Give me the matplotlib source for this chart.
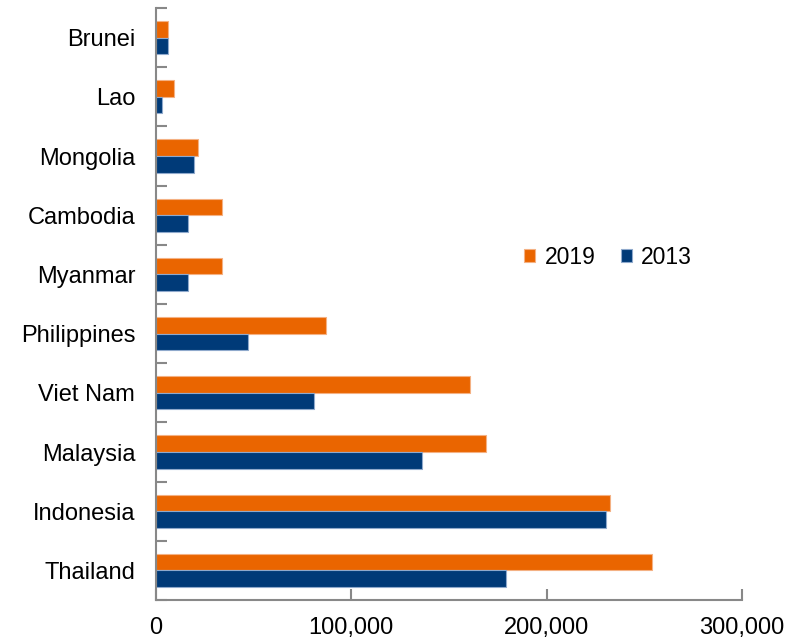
import matplotlib.pyplot as plt
import numpy as np
from matplotlib.ticker import FuncFormatter

plt.rcParams['font.family'] = ['Liberation Sans', 'DejaVu Sans']

# categories, bottom to top
countries = ["Thailand", "Indonesia", "Malaysia", "Viet Nam", "Philippines",
             "Myanmar", "Cambodia", "Mongolia", "Lao", "Brunei"]
v2019 = [253900, 232400, 169100, 160800, 87100, 33900, 33900, 21600, 9400, 6300]
v2013 = [179200, 230300, 136200, 81000, 47200, 16500, 16500, 19600, 3200, 6300]

orange = "#EA6500"
navy = "#003A78"

fig = plt.figure(figsize=(7.98, 6.4), dpi=100)
ax = fig.add_axes([156 / 798, 40 / 640, (742 - 156) / 798, (600 - 8) / 640])

y = np.arange(len(countries))
h = 0.28
ax.barh(y + h / 2, v2019, height=h, color=orange, edgecolor="#F4B183",
        linewidth=0.8, label="2019")
ax.barh(y - h / 2, v2013, height=h, color=navy, edgecolor="#8FA9CC",
        linewidth=0.8, label="2013")

ax.set_xlim(0, 300000)
ax.set_ylim(-0.5, len(countries) - 0.5)

ax.set_yticks(y)
ax.set_yticklabels(countries, fontsize=17)
ax.set_yticks(np.arange(-0.5, len(countries)), minor=True)
ax.tick_params(axis="y", which="major", length=0, pad=15)
ax.tick_params(axis="y", which="minor", direction="in", length=8,
               width=1.5, color="#888888")

ax.set_xticks([0, 100000, 200000, 300000])
ax.xaxis.set_major_formatter(FuncFormatter(lambda v, p: f"{int(v):,}"))
ax.tick_params(axis="x", direction="in", length=8, width=1.5,
               color="#888888", labelsize=17, pad=12)

for s in ["top", "right"]:
    ax.spines[s].set_visible(False)
for s in ["left", "bottom"]:
    ax.spines[s].set_color("#888888")
    ax.spines[s].set_linewidth(1.5)

ax.legend(loc="center", bbox_to_anchor=((608 - 156) / 586, (600 - 257) / 592),
          ncol=2, frameon=False, fontsize=16.5, handlelength=0.5,
          handleheight=0.5, handletextpad=0.4, columnspacing=1.1)

plt.savefig("out.png", dpi=100)
